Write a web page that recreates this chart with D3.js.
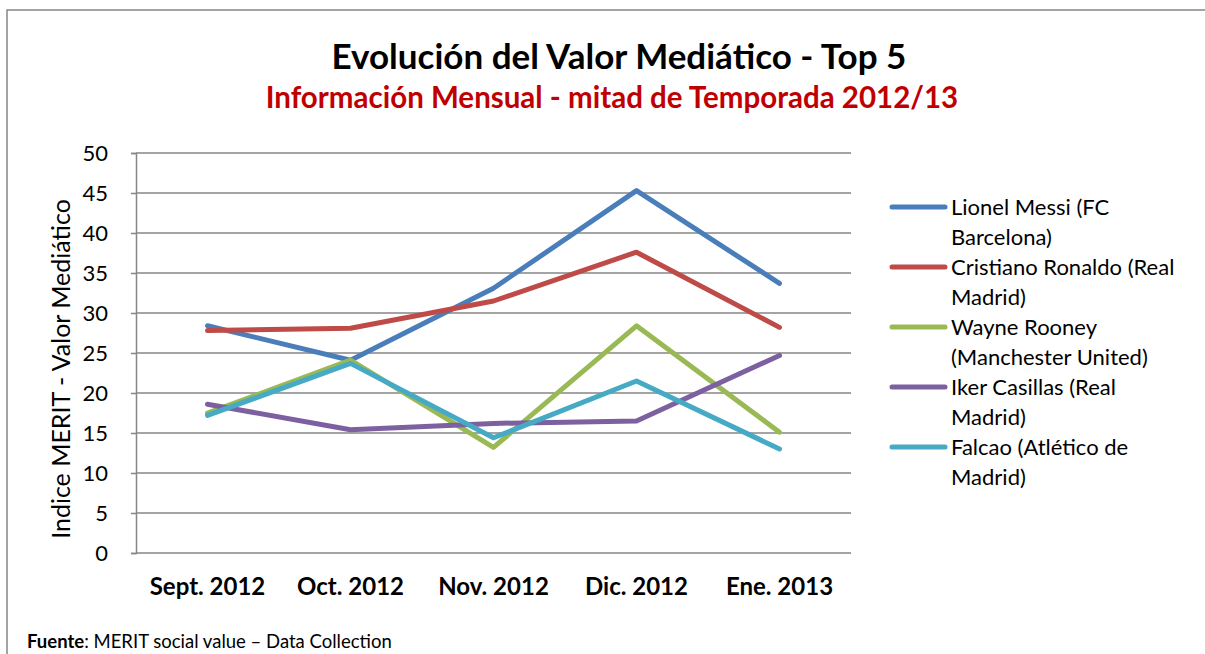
<!DOCTYPE html>
<html>
<head>
<meta charset="utf-8">
<script src="https://cdnjs.cloudflare.com/ajax/libs/d3/7.8.5/d3.min.js"></script>
<style>
  body { margin: 0; background: #fff; }
  text { font-family: Lato, "Open Sans", sans-serif; }
</style>
</head>
<body>
<script>
var width = 1205;
var height = 654;
var margin = {top: 153, left: 136, right: 354, bottom: 101};

var months = ["Sept. 2012", "Oct. 2012", "Nov. 2012", "Dic. 2012", "Ene. 2013"];
var yTicks = [0, 5, 10, 15, 20, 25, 30, 35, 40, 45, 50];

var players = [
  ["Lionel Messi (FC", "Barcelona)"],
  ["Cristiano Ronaldo (Real", "Madrid)"],
  ["Wayne Rooney", "(Manchester United)"],
  ["Iker Casillas (Real", "Madrid)"],
  ["Falcao (Atlético de", "Madrid)"]
];
var colors = ["#4A7EBB", "#BE4B48", "#98B954", "#7D60A0", "#46AAC5"];

var messi    = [28.4, 24.1, 33.1, 45.3, 33.7];
var ronaldo  = [27.8, 28.1, 31.5, 37.6, 28.2];
var rooney   = [17.5, 24.1, 13.2, 28.4, 15.1];
var casillas = [18.6, 15.4, 16.2, 16.5, 24.7];
var falcao   = [17.2, 23.7, 14.4, 21.5, 13.0];
var series = [messi, ronaldo, rooney, casillas, falcao];

var svg = d3.select("body")
  .append("svg")
  .attr("width", width)
  .attr("height", height);

// outer frame (runs off the right and bottom edge)
svg.append("rect")
  .attr("x", 7).attr("y", 10)
  .attr("width", 1220).attr("height", 680)
  .attr("fill", "none")
  .attr("stroke", "#868686")
  .attr("stroke-width", 1.5);

svg.append("text")
  .attr("x", 619).attr("y", 69)
  .attr("text-anchor", "middle")
  .attr("font-size", 35).attr("font-weight", "bold")
  .attr("fill", "#000")
  .text("Evolución del Valor Mediático - Top 5");

svg.append("text")
  .attr("x", 612).attr("y", 108)
  .attr("text-anchor", "middle")
  .attr("font-size", 29.5).attr("font-weight", "bold")
  .attr("fill", "#C00000")
  .text("Información Mensual - mitad de Temporada 2012/13");

var xScale = d3.scaleBand()
  .domain(months)
  .range([margin.left, width - margin.right]);

var yScale = d3.scaleLinear()
  .domain([0, 50])
  .range([height - margin.bottom, margin.top]);

// gridlines
svg.append("g")
  .selectAll("line")
  .data(yTicks)
  .enter()
  .append("line")
    .attr("x1", margin.left)
    .attr("x2", width - margin.right)
    .attr("y1", function(d) { return yScale(d); })
    .attr("y2", function(d) { return yScale(d); })
    .attr("stroke", "#868686")
    .attr("stroke-width", 1.5);

var yAxis = svg.append("g")
  .attr("transform", `translate(${margin.left},0)`)
  .call(d3.axisLeft(yScale).tickValues(yTicks).tickSize(5).tickPadding(23));
yAxis.select(".domain").attr("stroke", "#868686").attr("stroke-width", 1.5);
yAxis.selectAll(".tick line").attr("stroke", "#868686").attr("stroke-width", 1.5);
yAxis.selectAll(".tick text")
  .attr("font-size", 22).attr("fill", "#000")
  .style("font-family", "Lato, sans-serif");

var xAxis = svg.append("g")
  .attr("transform", `translate(0,${height - margin.bottom})`)
  .call(d3.axisBottom(xScale).tickSize(0).tickPadding(25));
xAxis.select(".domain").remove();
xAxis.selectAll(".tick text")
  .attr("font-size", 24).attr("font-weight", "bold").attr("fill", "#000")
  .style("font-family", "Lato, sans-serif");

svg.append("text")
  .attr("transform", "translate(70,369) rotate(-90)")
  .attr("text-anchor", "middle")
  .attr("font-size", 25)
  .text("Indice MERIT - Valor Mediático");

var line = d3.line()
  .x(function(d, i) { return xScale(months[i]) + xScale.bandwidth() / 2; })
  .y(function(d) { return yScale(d); });

svg.append("g")
  .selectAll("path")
  .data(series)
  .enter()
  .append("path")
    .attr("d", line)
    .attr("fill", "none")
    .attr("stroke", function(d, i) { return colors[i]; })
    .attr("stroke-width", 5)
    .attr("stroke-linecap", "round")
    .attr("stroke-linejoin", "round");

// legend
var legend = svg.append("g")
  .selectAll("g")
  .data(players)
  .enter()
  .append("g")
    .attr("transform", function(d, i) { return `translate(892,${207 + i * 60})`; });

legend.append("line")
  .attr("x1", 0).attr("x2", 53)
  .attr("stroke", function(d, i) { return colors[i]; })
  .attr("stroke-width", 5)
  .attr("stroke-linecap", "round");

legend.append("text")
  .attr("x", 59)
  .attr("font-size", 22)
  .selectAll("tspan")
  .data(function(d) { return d; })
  .enter()
  .append("tspan")
    .attr("x", 59)
    .attr("y", function(d, j) { return 8 + j * 30; })
    .text(function(d) { return d; });

var foot = svg.append("text")
  .attr("x", 27).attr("y", 648)
  .attr("font-size", 18.5);
foot.append("tspan").attr("font-weight", "bold").text("Fuente");
foot.append("tspan").text(": MERIT social value – Data Collection");
</script>
</body>
</html>
